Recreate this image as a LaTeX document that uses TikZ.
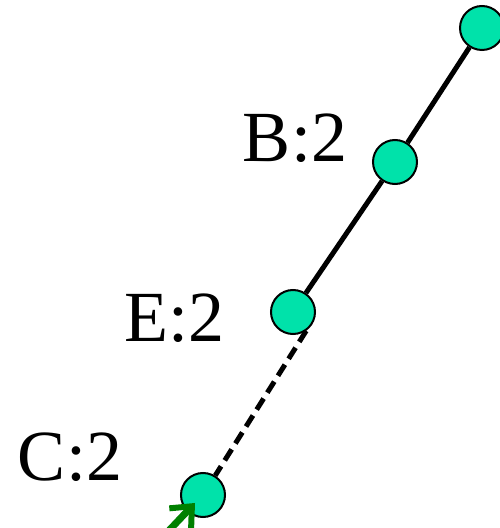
\documentclass[tikz,border=0pt]{standalone}
\usepackage{fontspec}
\setmainfont{Liberation Serif}
\usetikzlibrary{arrows.meta}
\definecolor{nodeA}{HTML}{00E2AA}
\definecolor{greenB}{HTML}{008000}
\tikzset{
  vertex/.style={circle, draw=black, line width=2pt, fill=nodeA, minimum size=44pt, inner sep=0pt},
  label/.style={font=\fontsize{72}{80}\selectfont, inner sep=0pt},
  edge/.style={line width=5pt, draw=black},
  dashedge/.style={edge, dash pattern=on 13pt off 7pt},
  arrow/.style={-{Straight Barb[length=17pt,width=30pt,line width=6pt]}, line width=7pt, draw=greenB}
}
\begin{document}
\begin{tikzpicture}[x=1pt,y=1pt]
\useasboundingbox (0,0) rectangle (500,528);

\node[vertex] (top) at (482,500) {};
\node[vertex] (b) at (395,366) {};
\node[vertex] (e) at (293,216) {};
\node[vertex] (c) at (203,33) {};

\node[label] (bl) at (295,390) {B:2};
\node[label] (el) at (174,210) {E:2};
\node[label] (cl) at (70,71) {C:2};

\draw[edge] (top) -- (b);
\draw[edge] (b) -- (e);
\draw[dashedge] (e.-55) -- (c);

\coordinate (start) at (160,-12);
\coordinate (tip) at (195,25);
\draw[arrow] (start) -- (tip);

\end{tikzpicture}
\end{document}
